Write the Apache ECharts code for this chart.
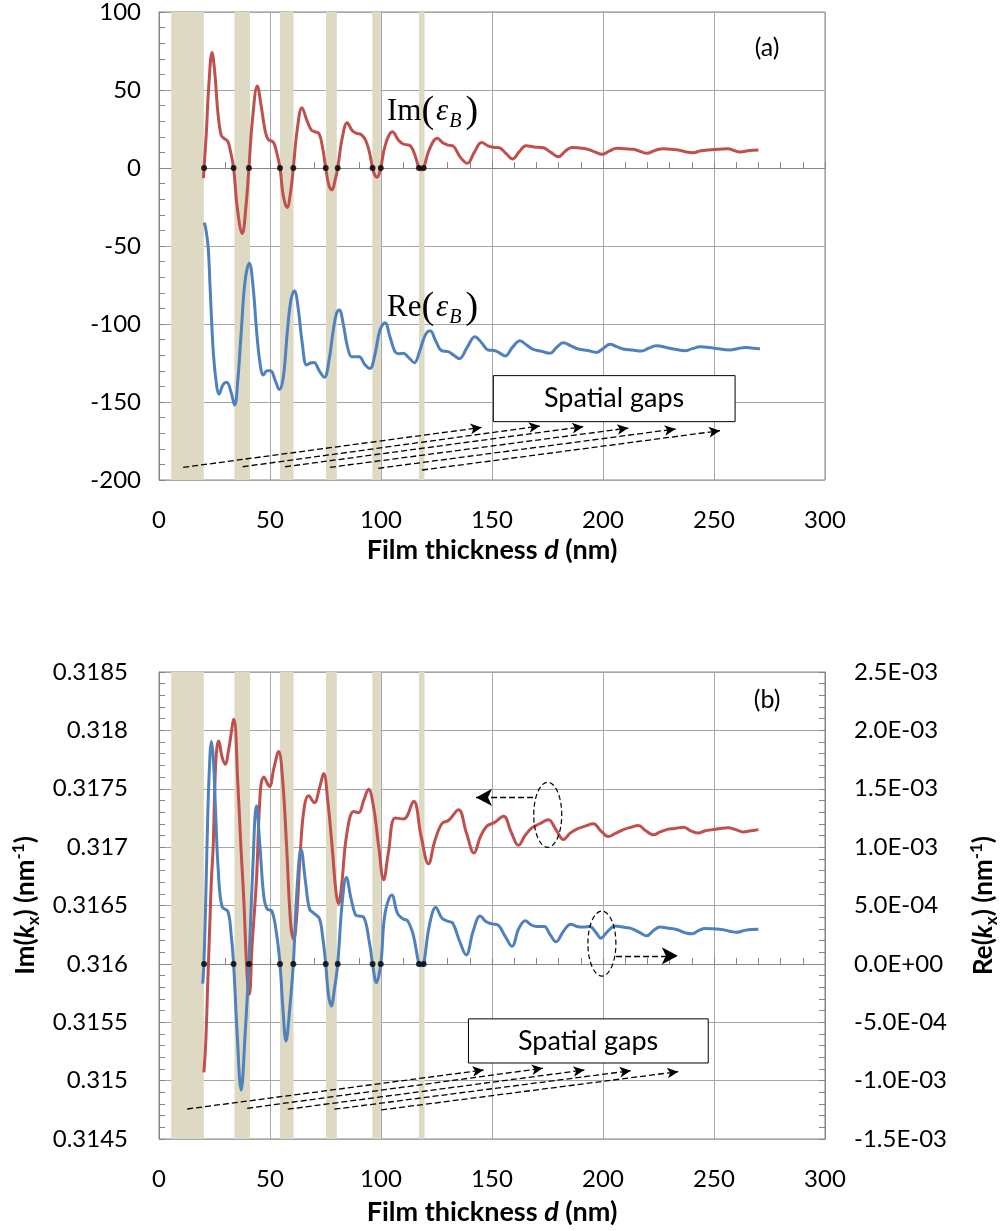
<!DOCTYPE html>
<html>
<head>
<meta charset="utf-8">
<script src="https://cdn.jsdelivr.net/npm/echarts@6/dist/echarts.min.js"></script>
<style>
html,body{margin:0;padding:0;background:#fff}
#main{width:1000px;height:1231px}
</style>
</head>
<body>
<div id="main"></div>
<script>
// (a) Im / Re of eps_B versus film thickness d (nm)
var imEps = [[20,-6.5],[20.3,0],[21.3,22],[22.4,52],[23.9,74],[25.2,60],[26.5,36],[28,21],[29.3,19],[31,17],[32.3,10],[33.6,0],
  [35.3,-26],[37.5,-42],[39.2,-24],[40.5,0],[42.1,31],[44.3,52.6],[46,40],[47.8,24],[49.2,18.4],[51.5,16.5],[53,10],[54.5,0],
  [56,-18],[57.7,-25.4],[59.3,-15],[60.5,0],[62.3,25],[64.4,38.7],[66.5,31],[68.5,24.5],[70,23.3],[72.1,22],[73.8,12],[75.1,0],
  [76.5,-11],[77.9,-14],[79.3,-8],[80.5,0],[82.5,19],[84.8,29],[87,24],[89,22.2],[91,21.5],[93,18],[94.8,10],[96.2,0],
  [97.2,-4.5],[98.2,-6],[99.1,-4],[99.9,0],[102,15],[105.2,23.3],[107.8,18],[110,15.4],[113.4,14],[115.8,6],[117.1,0],
  [118.2,-1.2],[119.2,0],[121.8,12],[125.4,19],[128,16],[130.3,14.7],[132.6,14],[135.7,7],[138.9,3],[142,10],[145.3,16.4],
  [148.5,14],[151.4,13.2],[153.3,13],[156.5,9],[159.3,5.8],[162.3,10.5],[165.3,14.3],[169,13.5],[173.1,13],[176.5,10],
  [179.9,7.2],[183,10.8],[185.9,13.2],[189.5,12.8],[192.6,12.2],[196,10.5],[199.8,8.8],[203,11],[206.2,12.6],[210,12.3],
  [213.7,12],[217,10.5],[219.7,9.4],[223.5,11.3],[227.2,12.4],[230.5,12],[233.9,11.5],[237.5,10.3],[240.7,9.8],[244,11],
  [247.4,11.6],[252,12],[256.4,12.4],[259,11.2],[261.7,10.3],[266,11.2],[270,11.5]];
var reEps = [[20.4,-35],[21.2,-40],[22.2,-52],[23,-76],[24.5,-119],[26,-140],[27,-145],[28.8,-139],[30.5,-137.4],[32.3,-143],
  [34.1,-152],[35.5,-136],[37,-106],[38.8,-72],[40.7,-61],[42.3,-75],[44,-105],[45.5,-125],[47,-132.7],[48.7,-130],[50.3,-130],
  [52.3,-136],[54.2,-142],[56,-134],[57.8,-105],[59.5,-84],[61,-78.8],[62.7,-90],[64.5,-112],[66.5,-126.3],[68.2,-125],
  [69.8,-124.6],[72.2,-130],[74.5,-134.2],[76.5,-124],[78.5,-104],[80,-93],[81.2,-91],[83,-100],[84.8,-114],[86.8,-121],
  [88.5,-121],[90.2,-121],[92.7,-126],[95,-128.6],[97.2,-120],[99.5,-104],[101.8,-99.2],[104,-108],[106.3,-117.7],[108.2,-119],
  [110,-118.8],[112.5,-121.5],[115,-124.8],[117.5,-117],[120,-107],[122.1,-104.3],[124.7,-111],[127.3,-117.1],[130.3,-117.7],
  [132.8,-120],[135.3,-122.2],[138.8,-115],[142.3,-108.1],[145.3,-112],[148.3,-116.7],[151.4,-117.1],[153.7,-118.8],
  [155.9,-120.5],[159.2,-115],[162.6,-110.7],[165.6,-113.5],[168.6,-116.2],[172.3,-117.5],[176.1,-118.8],[179.1,-115],
  [182.1,-112],[185.5,-114],[188.9,-116],[193,-117],[197.2,-118.2],[200.2,-115.5],[203.2,-113],[206.2,-114.5],[209.1,-116],
  [213.2,-116.7],[217.4,-117.3],[220.6,-115.5],[223.9,-113.9],[230,-115.5],[236.9,-117.1],[240.3,-115.8],[243.7,-114.6],
  [250,-115.5],[257.2,-116.7],[260.6,-115.8],[264,-115],[267.5,-115.5],[270.7,-115.8]];

// (b) Im(kx) on left axis, Re(kx) on right axis
var imK = [[20.2,0.31507],[21,0.31530],[22,0.31586],[23,0.31640],[23.6,0.31672],[24.4,0.31700],[25.2,0.31755],[26,0.31784],
  [26.9,0.31791],[28.3,0.31778],[29.8,0.31771],[31.5,0.31785],[33.7,0.318095],[35.5,0.31755],[36.9,0.31700],[38.2,0.31655],
  [39.7,0.31590],[40.7,0.31574],[41.9,0.31615],[43.9,0.31672],[45.7,0.31749],[47.2,0.31760],[49.7,0.31752],[51.8,0.31768],
  [53.9,0.31782],[55.6,0.31760],[57.5,0.31700],[59.3,0.31635],[60.7,0.31621],[62,0.31640],[63.8,0.31700],[65.5,0.31735],
  [67.4,0.31744],[70,0.31738],[72.2,0.31750],[74.2,0.31763],[76,0.31740],[78,0.31700],[79.7,0.31662],[80.9,0.316515],
  [82.3,0.31668],[84.5,0.31710],[87.7,0.317305],[89.9,0.317295],[92.2,0.31740],[94.4,0.317495],[96.6,0.31735],[99,0.31700],
  [101.2,0.31672],[103.3,0.31695],[106.4,0.31725],[110.2,0.31724],[114.7,0.317393],[118,0.31710],[121.4,0.316857],
  [124.2,0.31705],[127.4,0.31720],[130.5,0.31723],[134.9,0.31732],[138.5,0.31712],[141.9,0.31695],[144.8,0.31709],
  [147.7,0.31718],[151,0.31721],[155.2,0.317265],[158.6,0.31713],[161.9,0.317015],[164.9,0.31710],[167.9,0.317165],
  [171.5,0.31720],[175.4,0.317235],[178.8,0.31715],[182.2,0.317065],[185.2,0.31712],[188.2,0.317155],[192,0.31718],
  [195.7,0.31720],[199,0.31714],[202.4,0.31709],[205.8,0.31712],[209.2,0.31715],[212.5,0.31717],[215.9,0.317185],
  [219.3,0.31714],[222.7,0.317105],[225.7,0.31713],[228.7,0.31715],[232.5,0.31716],[236.2,0.31717],[239.5,0.31714],
  [242.9,0.31712],[246,0.31714],[249.5,0.31715],[253,0.31716],[256.4,0.317165],[259.8,0.31715],[263.2,0.31713],
  [266.6,0.31714],[270,0.31715]];
var reK = [[19.7,-1.7e-4],[20.2,0],[21,5e-4],[22,1.3e-3],[23,1.8e-3],[23.6,1.905e-3],[24.5,1.75e-3],[25.5,1.3e-3],[26.7,8e-4],
  [28.4,4.9e-4],[31,4.5e-4],[32.5,2.5e-4],[33.6,0],[35.2,-6e-4],[37,-1.08e-3],[38.8,-6e-4],[40.5,0],[42.2,8e-4],[43.9,1.355e-3],
  [45.5,1.0e-3],[47.2,5.8e-4],[48.7,4.7e-4],[50.9,4.5e-4],[53,2.5e-4],[54.5,0],[55.8,-3.8e-4],[57.2,-6.6e-4],[58.9,-3.8e-4],
  [60.5,0],[62.2,6.5e-4],[64,9.8e-4],[66,7e-4],[67.8,4.7e-4],[69.7,4.35e-4],[72.2,3.9e-4],[73.8,2.2e-4],[75.1,0],[76.3,-2.6e-4],
  [77.6,-3.6e-4],[79,-2.2e-4],[80.5,0],[82.5,5.2e-4],[84.4,7.4e-4],[86.5,5.6e-4],[88.5,4.2e-4],[90,4.1e-4],[92.2,4e-4],
  [94.8,1.8e-4],[96.2,0],[97.9,-1.6e-4],[99.9,0],[101.8,4.3e-4],[104.9,5.9e-4],[107.5,4.3e-4],[110.2,3.83e-4],[112,3.7e-4],
  [114.5,2.5e-4],[117.1,0],[118.2,-1.5e-5],[119.2,0],[121.8,3.3e-4],[124.7,4.83e-4],[127.5,3.9e-4],[130.4,3.63e-4],
  [132.3,3.5e-4],[135.3,2e-4],[138.4,7.7e-5],[141.5,2.8e-4],[144.7,4.1e-4],[147.4,3.6e-4],[150,3.43e-4],[152.5,3.35e-4],
  [155.8,2.4e-4],[159,1.5e-4],[162,3e-4],[165,3.7e-4],[167.5,3.35e-4],[170.2,3.2e-4],[173.5,3.2e-4],[176.2,2.5e-4],
  [178.8,1.9e-4],[182.2,2.8e-4],[185.5,3.4e-4],[188.3,3.2e-4],[191.2,3.15e-4],[194,3.2e-4],[196.8,2.7e-4],[199,2.2e-4],
  [202.2,2.8e-4],[205.4,3.25e-4],[208.8,3.15e-4],[212.2,3.06e-4],[216,2.75e-4],[219.7,2.4e-4],[222.7,2.85e-4],[225.7,3.15e-4],
  [229.5,3.05e-4],[233,2.95e-4],[236.5,2.7e-4],[240,2.57e-4],[243,2.85e-4],[246,3.03e-4],[250,3.0e-4],[253.5,2.95e-4],
  [257,2.8e-4],[260.2,2.7e-4],[263.5,2.85e-4],[266.8,2.95e-4],[270,2.97e-4]];

// zero crossings (black dots) and spatial gap bands
var zeroX = [20.3,33.6,40.5,54.5,60.5,75.1,80.5,96.2,99.9,117.1,119.2];
var gaps = [[5.5,20.2],[34,41],[54.5,60.6],[75.2,80.1],[96.1,99.9],[117.1,119.6]];

// tick labels
var xTicks = ['0','50','100','150','200','250','300'];
var epsTicks = ['-200','-150','-100','-50','0','50','100'];
var imKTicks = ['0.3145','0.315','0.3155','0.316','0.3165','0.317','0.3175','0.318','0.3185'];
var reKTicks = ['-1.5E-03','-1.0E-03','-5.0E-04','0.0E+00','5.0E-04','1.0E-03','1.5E-03','2.0E-03','2.5E-03'];

// annotation anchors (data coords)
var arrowsA = [[[10.9,-191.9],[145.3,-166.3]],[[37.7,-191.5],[171.6,-165.4]],[[56.8,-191.5],[191.1,-165.8]],
  [[77,-191.9],[211.4,-166.7]],[[98.8,-192.5],[232.7,-167.3]],[[118.5,-193.6],[252.7,-168.4]]];
var arrowsB = [[[12.7,0.314757],[146.2,0.315091]],[[39.7,0.314763],[172.9,0.315106]],[[58,0.314755],[191.6,0.315091]],
  [[79,0.314755],[212.5,0.315085]],[[100.1,0.314749],[233.9,0.315077]]];

var RED = '#c0504d', BLUE = '#4f81bd', BAND = '#ddd9c3', GRIDC = '#a6a6a6', AXC = '#868686';
var FONT = 'Lato';

var chart = echarts.init(document.getElementById('main'));

function pick(arr, min, step) {
  return function (v) {
    var i = Math.round((v - min) / step);
    return arr[i] !== undefined ? arr[i] : '';
  };
}

function xAxisCfg(grid, gap) {
  return {
    type: 'value', gridIndex: grid, min: 0, max: 300, interval: 50,
    axisLine: {show: true, lineStyle: {color: AXC, width: 1}},
    axisTick: {show: true, inside: true, length: 6, lineStyle: {color: AXC}},
    minorTick: {show: true, splitNumber: 5, length: 6, lineStyle: {color: AXC}},
    splitLine: {show: true, lineStyle: {color: GRIDC, width: 1}},
    axisLabel: {fontFamily: FONT, fontSize: 24, color: '#000', margin: 28, formatter: pick(xTicks, 0, 50)},
    name: '{b|Film thickness }{bi|d}{b| (nm)}', nameLocation: 'middle', nameGap: gap,
    nameTextStyle: {rich: {
      b: {fontFamily: FONT, fontSize: 27, fontWeight: 'bold', color: '#000'},
      bi: {fontFamily: FONT, fontSize: 27, fontWeight: 'bold', fontStyle: 'italic', color: '#000'}
    }}
  };
}

function yAxisCommon(o) {
  var base = {
    type: 'value',
    axisLine: {show: true, lineStyle: {color: AXC, width: 1}},
    axisTick: {show: true, inside: true, length: 6, lineStyle: {color: AXC}},
    minorTick: {show: true, splitNumber: 5, length: 6, lineStyle: {color: AXC}},
    splitLine: {show: true, lineStyle: {color: GRIDC, width: 1}},
    axisLabel: {fontFamily: FONT, fontSize: 24, color: '#000'}
  };
  for (var k in o) {
    if (base[k] && typeof o[k] === 'object' && !Array.isArray(o[k])) {
      for (var j in o[k]) base[k][j] = o[k][j];
    } else base[k] = o[k];
  }
  return base;
}

var nameRich = {
  b: {fontFamily: FONT, fontSize: 26, fontWeight: 'bold', color: '#000', lineHeight: 32},
  bi: {fontFamily: FONT, fontSize: 26, fontWeight: 'bold', fontStyle: 'italic', color: '#000', lineHeight: 32},
  sub: {fontFamily: FONT, fontSize: 17, fontWeight: 'bold', color: '#000', lineHeight: 15, verticalAlign: 'bottom'},
  sup: {fontFamily: FONT, fontSize: 17, fontWeight: 'bold', color: '#000', lineHeight: 15, verticalAlign: 'top'}
};

var markArrow = {
  silent: true, animation: false,
  symbol: ['none', 'arrow'], symbolSize: [8, 11],
  label: {show: false}, emphasis: {disabled: true},
  lineStyle: {type: [6, 3], color: '#000', width: 1.3}
};

function arrowData(list) {
  return list.map(function (a) { return [{coord: a[0]}, {coord: a[1]}]; });
}

function bandArea() {
  return {
    silent: true,
    itemStyle: {color: BAND, opacity: 1},
    data: gaps.map(function (g) { return [{xAxis: g[0]}, {xAxis: g[1]}]; })
  };
}

var option = {
  animation: false,
  backgroundColor: '#fff',
  grid: [
    {left: 159, top: 12, width: 666, height: 468, show: true, borderColor: AXC, borderWidth: 1,
      backgroundColor: 'transparent', containLabel: false, outerBoundsMode: 'none'},
    {left: 159, top: 672, width: 666, height: 467, show: true, borderColor: AXC, borderWidth: 1,
      backgroundColor: 'transparent', containLabel: false, outerBoundsMode: 'none'}
  ],
  xAxis: [xAxisCfg(0, 57), xAxisCfg(1, 60)],
  yAxis: [
    yAxisCommon({gridIndex: 0, min: -200, max: 100, interval: 50,
      axisLabel: {margin: 18, formatter: pick(epsTicks, -200, 50)}}),
    yAxisCommon({gridIndex: 1, min: 0.3145, max: 0.3185, interval: 0.0005,
      axisLabel: {margin: 31, formatter: pick(imKTicks, 0.3145, 0.0005)},
      name: '{b|Im(}{bi|k}{sub|x}{b|) (nm}{sup|-1}{b|)}', nameLocation: 'middle', nameGap: 113, nameRotate: 90,
      nameTextStyle: {rich: nameRich}}),
    yAxisCommon({gridIndex: 1, position: 'right', min: -1.5e-3, max: 2.5e-3, interval: 5e-4,
      splitLine: {show: false},
      axisLabel: {margin: 29, formatter: pick(reKTicks, -1.5e-3, 5e-4)},
      name: '{b|Re(}{bi|k}{sub|x}{b|) (nm}{sup|-1}{b|)}', nameLocation: 'middle', nameGap: 143, nameRotate: 90,
      nameTextStyle: {rich: nameRich}})
  ],
  series: [
    {type: 'line', xAxisIndex: 0, yAxisIndex: 0, data: [], z: -1, silent: true, markArea: bandArea()},
    {type: 'line', name: 'Im(epsB)', xAxisIndex: 0, yAxisIndex: 0, data: imEps, smooth: 0.4, showSymbol: false,
      lineStyle: {color: RED, width: 3}, z: 3},
    {type: 'line', name: 'Re(epsB)', xAxisIndex: 0, yAxisIndex: 0, data: reEps, smooth: 0.4, showSymbol: false,
      lineStyle: {color: BLUE, width: 3}, z: 3},
    {type: 'scatter', xAxisIndex: 0, yAxisIndex: 0, symbolSize: 6, itemStyle: {color: '#000'}, z: 5,
      data: zeroX.map(function (x) { return [x, 0]; }),
      markLine: Object.assign({data: arrowData(arrowsA)}, markArrow)},

    {type: 'line', xAxisIndex: 1, yAxisIndex: 1, data: [], z: -1, silent: true, markArea: bandArea()},
    {type: 'line', name: 'Im(kx)', xAxisIndex: 1, yAxisIndex: 1, data: imK, smooth: 0.4, showSymbol: false,
      lineStyle: {color: RED, width: 3}, z: 3,
      markLine: Object.assign({}, markArrow, {data: arrowData(arrowsB).concat([
        [{coord: [168.5, 0.317426]}, {coord: [142.8, 0.317426], symbolSize: [13, 16]}],
        [{coord: [205.9, 0.316069]}, {coord: [233.7, 0.316069], symbolSize: [13, 16]}]
      ])})},
    {type: 'line', name: 'Re(kx)', xAxisIndex: 1, yAxisIndex: 2, data: reK, smooth: 0.4, showSymbol: false,
      lineStyle: {color: BLUE, width: 3}, z: 4},
    {type: 'scatter', xAxisIndex: 1, yAxisIndex: 2, symbolSize: 6, itemStyle: {color: '#000'}, z: 5,
      data: zeroX.map(function (x) { return [x, 0]; })}
  ]
};
chart.setOption(option);

// overlay annotations, anchored through the axes
function px(grid, p) {
  return chart.convertToPixel({xAxisIndex: grid, yAxisIndex: grid === 0 ? 0 : 1}, p);
}
function textEl(p, txt, rich, align) {
  return {type: 'text', x: p[0], y: p[1], z: 20,
    style: {text: txt, rich: rich, align: align || 'center', verticalAlign: 'middle',
      textAlign: align || 'center', textVerticalAlign: 'middle', fill: '#000'}};
}
function boxEl(a, b) {
  return {type: 'rect', z: 19, shape: {x: a[0], y: a[1], width: b[0] - a[0], height: b[1] - a[1]},
    style: {fill: '#fff', stroke: '#000', lineWidth: 1}};
}
var serif = 'Liberation Serif';
var epsRich = {
  m: {fontFamily: serif, fontSize: 31, color: '#000', lineHeight: 40},
  p: {fontFamily: serif, fontSize: 38, color: '#000', lineHeight: 40},
  e: {fontFamily: serif, fontSize: 31, fontStyle: 'italic', color: '#000', lineHeight: 40, padding: [0, 0, 0, 2]},
  s: {fontFamily: serif, fontSize: 20, fontStyle: 'italic', color: '#000', lineHeight: 26, verticalAlign: 'bottom', padding: [0, 4, 0, 1]}
};
var sansRich = {t: {fontFamily: FONT, fontSize: 27, color: '#000'}};
var tagRich = {t: {fontFamily: FONT, fontSize: 25, color: '#000'}};

var g = [];
g.push(textEl(px(0, [102.7, 35.9]), '{m|Im}{p|(}{e|ε}{s|B}{p|)}', epsRich, 'left'));
g.push(textEl(px(0, [102.7, -89.7]), '{m|Re}{p|(}{e|ε}{s|B}{p|)}', epsRich, 'left'));
g.push(textEl(px(0, [273.9, 76.9]), '{t|(a)}', tagRich));
g.push(boxEl(px(0, [150.6, -133.1]), px(0, [259.5, -162.6])));
g.push(textEl(px(0, [205, -147.9]), '{t|Spatial gaps}', sansRich));

g.push(textEl(px(1, [273.9, 0.318263]), '{t|(b)}', tagRich));
g.push(boxEl(px(1, [139.4, 0.315529]), px(1, [247.4, 0.315151])));
g.push(textEl(px(1, [193.3, 0.31534]), '{t|Spatial gaps}', sansRich));
[[175.1, 0.317277], [199.5, 0.316174]].forEach(function (c) {
  var p = px(1, c);
  g.push({type: 'ellipse', z: 18, shape: {cx: p[0], cy: p[1], rx: 14, ry: 32.5},
    style: {fill: 'none', stroke: '#000', lineWidth: 1.2, lineDash: [5, 3]}});
});
chart.setOption({graphic: g});
</script>
</body>
</html>
